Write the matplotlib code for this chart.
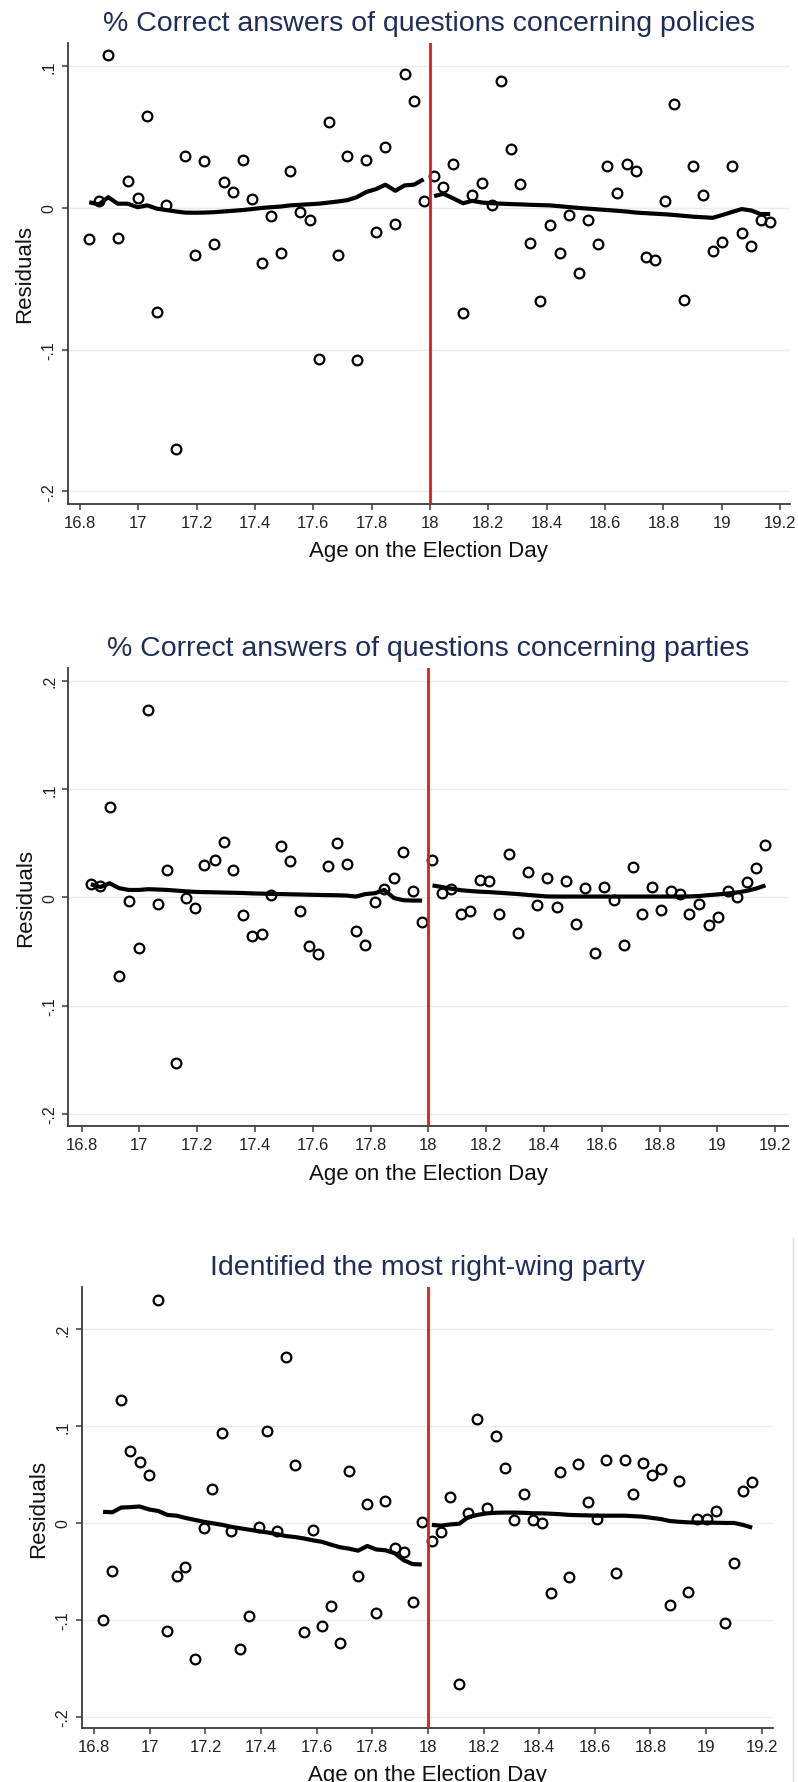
import matplotlib
matplotlib.use("Agg")
import matplotlib.pyplot as plt
from matplotlib.lines import Line2D

# bin midpoints (age on election day), same bins for all three outcomes
age_pre = [16.832, 16.865, 16.897, 16.929, 16.963, 16.998, 17.031, 17.063, 17.096,
           17.128, 17.161, 17.194, 17.225, 17.261, 17.293, 17.325, 17.358, 17.391,
           17.423, 17.456, 17.489, 17.521, 17.554, 17.587, 17.619, 17.653, 17.683,
           17.717, 17.749, 17.782, 17.815, 17.847, 17.881, 17.913, 17.945, 17.978]
age_post = [18.014, 18.046, 18.079, 18.113, 18.145, 18.178, 18.211, 18.245, 18.277,
            18.310, 18.344, 18.377, 18.410, 18.444, 18.476, 18.509, 18.541, 18.575,
            18.607, 18.641, 18.675, 18.707, 18.739, 18.772, 18.806, 18.838, 18.870,
            18.903, 18.937, 18.969, 19.002, 19.036, 19.069, 19.101, 19.133, 19.166]

titles = ["% Correct answers of questions concerning policies",
          "% Correct answers of questions concerning parties",
          "Identified the most right-wing party"]

# panel 1 : policies
pol_pre = [-0.0222, 0.0050, 0.1076, -0.0209, 0.0189, 0.0071, 0.0647, -0.0736, 0.0018,
           -0.1705, 0.0370, -0.0332, 0.0330, -0.0252, 0.0181, 0.0111, 0.0335, 0.0060,
           -0.0390, -0.0058, -0.0320, 0.0259, -0.0030, -0.0083, -0.1066, 0.0610, -0.0332,
           0.0370, -0.1073, 0.0335, -0.0171, 0.0433, -0.0116, 0.0942, 0.0758, 0.0050]
pol_post = [0.0222, 0.0146, 0.0310, -0.0743, 0.0091, 0.0176, 0.0020, 0.0897, 0.0413,
            0.0169, -0.0247, -0.0655, -0.0121, -0.0317, -0.0050, -0.0461, -0.0086, -0.0254,
            0.0295, 0.0103, 0.0307, 0.0262, -0.0348, -0.0368, 0.0048, 0.0736, -0.0650,
            0.0297, 0.0093, -0.0305, -0.0242, 0.0297, -0.0179, -0.0267, -0.0088, -0.0096]
pol_fit_pre = [0.0040, 0.0025, 0.0076, 0.0030, 0.0030, 0.0005, 0.0018, -0.0005, -0.0015,
               -0.0025, -0.0033, -0.0034, -0.0033, -0.0030, -0.0025, -0.0020, -0.0015, -0.0008,
               0.0000, 0.0005, 0.0010, 0.0018, 0.0022, 0.0026, 0.0030, 0.0038, 0.0045,
               0.0055, 0.0076, 0.0113, 0.0133, 0.0164, 0.0121, 0.0159, 0.0164, 0.0202]
pol_fit_post = [0.0083, 0.0100, 0.0068, 0.0033, 0.0050, 0.0038, 0.0033, 0.0030, 0.0027,
                0.0025, 0.0022, 0.0020, 0.0018, 0.0012, 0.0006, 0.0000, -0.0005, -0.0010,
                -0.0015, -0.0020, -0.0026, -0.0033, -0.0037, -0.0041, -0.0045, -0.0050, -0.0056,
                -0.0062, -0.0066, -0.0070, -0.0050, -0.0028, -0.0008, -0.0018, -0.0043, -0.0043]

# panel 2 : parties
par_pre = [0.0126, 0.0106, 0.0836, -0.0727, -0.0031, -0.0471, 0.1727, -0.0065, 0.0249,
           -0.1526, -0.0007, -0.0102, 0.0297, 0.0348, 0.0509, 0.0249, -0.0164, -0.0358,
           -0.0338, 0.0024, 0.0474, 0.0338, -0.0126, -0.0454, -0.0522, 0.0290, 0.0502,
           0.0304, -0.0311, -0.0440, -0.0044, 0.0075, 0.0174, 0.0416, 0.0055, -0.0232]
par_post = [0.0348, 0.0038, 0.0078, -0.0150, -0.0130, 0.0164, 0.0154, -0.0157, 0.0396,
            -0.0328, 0.0232, -0.0072, 0.0174, -0.0089, 0.0150, -0.0249, 0.0089, -0.0512,
            0.0096, -0.0027, -0.0440, 0.0276, -0.0150, 0.0096, -0.0119, 0.0058, 0.0027,
            -0.0154, -0.0065, -0.0253, -0.0181, 0.0058, 0.0007, 0.0137, 0.0270, 0.0481]
par_fit_pre = [0.0120, 0.0095, 0.0130, 0.0085, 0.0068, 0.0068, 0.0075, 0.0072, 0.0068,
               0.0062, 0.0055, 0.0050, 0.0048, 0.0046, 0.0044, 0.0042, 0.0040, 0.0036,
               0.0034, 0.0032, 0.0030, 0.0028, 0.0026, 0.0024, 0.0022, 0.0020, 0.0019,
               0.0016, 0.0007, 0.0030, 0.0038, 0.0068, -0.0007, -0.0027, -0.0030, -0.0030]
par_fit_post = [0.0110, 0.0095, 0.0080, 0.0065, 0.0058, 0.0052, 0.0048, 0.0042, 0.0036,
                0.0030, 0.0022, 0.0015, 0.0008, 0.0007, 0.0007, 0.0007, 0.0007, 0.0007,
                0.0007, 0.0007, 0.0007, 0.0007, 0.0007, 0.0007, 0.0007, 0.0007, 0.0007,
                0.0008, 0.0012, 0.0020, 0.0027, 0.0035, 0.0045, 0.0060, 0.0080, 0.0110]

# panel 3 : right-wing party
rw_pre = [-0.1004, -0.0496, 0.1274, 0.0742, 0.0627, 0.0492, 0.2298, -0.1115, -0.0544,
          -0.0452, -0.1405, -0.0048, 0.0349, 0.0925, -0.0083, -0.1306, -0.0960, -0.0044,
          0.0952, -0.0083, 0.1718, 0.0603, -0.1131, -0.0075, -0.1063, -0.0861, -0.1242,
          0.0540, -0.0544, 0.0198, -0.0933, 0.0230, -0.0254, -0.0302, -0.0813, 0.0008]
rw_post = [-0.0183, -0.0091, 0.0270, -0.1659, 0.0099, 0.1075, 0.0151, 0.0901, 0.0567,
           0.0028, 0.0298, 0.0028, 0.0004, -0.0726, 0.0524, -0.0556, 0.0611, 0.0214,
           0.0036, 0.0647, -0.0520, 0.0655, 0.0298, 0.0619, 0.0500, 0.0560, -0.0849,
           0.0437, -0.0714, 0.0040, 0.0040, 0.0119, -0.1028, -0.0409, 0.0333, 0.0425]
rw_fit_pre = [0.0115, 0.0110, 0.0159, 0.0163, 0.0170, 0.0139, 0.0123, 0.0083, 0.0075,
              0.0052, 0.0032, 0.0012, -0.0003, -0.0020, -0.0040, -0.0055, -0.0070, -0.0085,
              -0.0098, -0.0115, -0.0135, -0.0145, -0.0160, -0.0180, -0.0195, -0.0226, -0.0250,
              -0.0266, -0.0286, -0.0238, -0.0274, -0.0282, -0.0313, -0.0385, -0.0425, -0.0429]
rw_fit_post = [-0.0020, -0.0028, -0.0016, -0.0008, 0.0060, 0.0083, 0.0099, 0.0105, 0.0107,
               0.0107, 0.0105, 0.0100, 0.0099, 0.0095, 0.0090, 0.0083, 0.0080, 0.0078,
               0.0075, 0.0075, 0.0075, 0.0075, 0.0070, 0.0065, 0.0052, 0.0040, 0.0020,
               0.0012, 0.0006, 0.0004, 0.0004, 0.0002, 0.0000, 0.0000, -0.0020, -0.0048]

xticks = [16.8, 17, 17.2, 17.4, 17.6, 17.8, 18, 18.2, 18.4, 18.6, 18.8, 19, 19.2]
xticklabels = ["16.8", "17", "17.2", "17.4", "17.6", "17.8", "18",
               "18.2", "18.4", "18.6", "18.8", "19", "19.2"]
yticks_small = [0.1, 0, -0.1, -0.2]
yticklabels_small = [".1", "0", "-.1", "-.2"]
yticks_big = [0.2, 0.1, 0, -0.1, -0.2]
yticklabels_big = [".2", ".1", "0", "-.1", "-.2"]
cutoff = 18

plt.rcParams["font.family"] = ["Liberation Sans", "DejaVu Sans"]

W, H = 798, 1783
fig = plt.figure(figsize=(W / 100, H / 100), dpi=100)

# axes boxes in pixels: left, right, top, bottom
boxes = [(67.7, 790, 43.6, 505), (68.3, 788, 669, 1127.3), (81.7, 773.3, 1288.3, 1728.7)]
xlims = [(16.758, 19.234), (16.754, 19.244), (16.755, 19.242)]
ylims = [(-0.209, 0.1167), (-0.2114, 0.2117), (-0.2114, 0.2433)]
panels = [
    (pol_pre, pol_post, pol_fit_pre, pol_fit_post, yticks_small, yticklabels_small),
    (par_pre, par_post, par_fit_pre, par_fit_post, yticks_big, yticklabels_big),
    (rw_pre, rw_post, rw_fit_pre, rw_fit_post, yticks_big, yticklabels_big),
]

title_col = "#1f2d58"
axis_col = "#3a3a3a"

for i, (pre, post, fpre, fpost, yt, ytl) in enumerate(panels):
    l, r, t, b = boxes[i]
    ax = fig.add_axes([l / W, 1 - b / H, (r - l) / W, (b - t) / H])

    for y in yt:
        ax.axhline(y, color="#ebebeb", lw=1, zorder=0)

    ax.plot(age_pre, pre, "o", mfc="none", mec="black", ms=7, mew=1.6, zorder=3)
    ax.plot(age_post, post, "o", mfc="none", mec="black", ms=7, mew=1.6, zorder=3)
    ax.plot(age_pre, fpre, color="black", lw=3, zorder=4, solid_capstyle="butt")
    ax.plot(age_post, fpost, color="black", lw=3, zorder=4, solid_capstyle="butt")
    ax.axvline(cutoff, color="#e31a1c", lw=2, zorder=5)

    ax.set_xlim(*xlims[i])
    ax.set_ylim(*ylims[i])
    ax.set_xticks(xticks)
    ax.set_xticklabels(xticklabels, fontsize=12, color="#222222")
    ax.set_yticks(yt)
    ax.set_yticklabels(ytl, fontsize=11.5, color="#222222", rotation=90, va="center")
    ax.tick_params(axis="both", direction="out", length=4, width=1.1, color=axis_col, pad=4)

    for side in ["top", "right"]:
        ax.spines[side].set_visible(False)
    for side in ["left", "bottom"]:
        ax.spines[side].set_color(axis_col)
        ax.spines[side].set_linewidth(1.3)

    ax.annotate(titles[i], xy=(0.5, 1), xycoords="axes fraction",
                xytext=(0, 20), textcoords="offset pixels",
                ha="center", va="center", fontsize=20.5, color=title_col)
    ax.annotate("Age on the Election Day", xy=(0.5, 0), xycoords="axes fraction",
                xytext=(0, -47), textcoords="offset pixels",
                ha="center", va="center", fontsize=16, color="#111111")
    ax.annotate("Residuals", xy=(0, 0.5), xycoords="axes fraction",
                xytext=(-43, 0), textcoords="offset pixels",
                ha="center", va="center", rotation=90, fontsize=16, color="#111111")

# faint border line at the right edge of the last panel
fig.add_artist(Line2D([793 / W, 793 / W], [0, 1 - 1238 / H], color="#dddddd", lw=1))

fig.savefig("out.png", dpi=100)
